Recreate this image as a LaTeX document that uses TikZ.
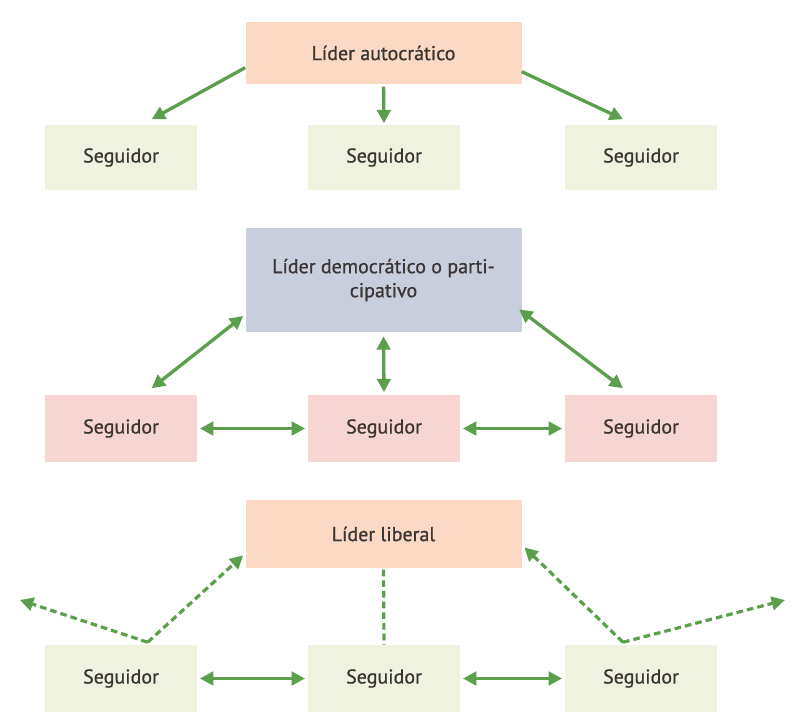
\documentclass[tikz,border=0pt]{standalone}
\usepackage{fontspec}
\setmainfont{PT Sans}[BoldFont={PT Sans}, BoldFeatures={FakeBold=0.9}]
\usetikzlibrary{positioning}
\usetikzlibrary{arrows.meta}

\definecolor{verde}{HTML}{5B9F4C}
\definecolor{durazno}{HTML}{FCD9C5}
\definecolor{verdeclaro}{HTML}{EEF2DE}
\definecolor{gris}{HTML}{C9CEDD}
\definecolor{rosa}{HTML}{F7D5D3}
\definecolor{texto}{HTML}{3B3633}

\tikzset{
	lider/.style={fill=durazno, text=texto, font=\fontsize{15}{18}\selectfont\bfseries, minimum width=207pt, minimum height=46pt, align=center, inner sep=0pt},
	seguidor/.style={fill=verdeclaro, text=texto, font=\fontsize{15}{18}\selectfont\bfseries, minimum width=114pt, minimum height=49pt, inner sep=0pt},
	flecha/.style={line width=2.5pt, verde, -{Triangle[length=10pt,width=10pt]}},
	doble/.style={line width=2.5pt, verde, {Triangle[length=10pt,width=10pt]}-{Triangle[length=10pt,width=10pt]}},
	rayada/.style={line width=2.4pt, verde, dash pattern=on 5pt off 3pt}
}

\begin{document}
\begin{tikzpicture}[x=0.75pt,y=-0.75pt]
	\useasboundingbox (0,0) rectangle (793,715);
	
	% autocratico
	\node [lider] at (383.5,53) (L1) {Líder autocrático};
	\node [seguidor] at (121,157.5) (S11) {Seguidor};
	\node [seguidor] at (384,157.5) (S12) {Seguidor};
	\node [seguidor] at (641,157.5) (S13) {Seguidor};
	
	\draw [flecha] ([yshift=-11pt]L1.west) -- ([xshift=23pt,yshift=4pt]S11.north);
	\draw [flecha, shorten <=2pt, shorten >=1pt] (L1.south) -- (S12.north);
	\draw [flecha] ([yshift=-14pt]L1.east) -- ([xshift=-13.5pt,yshift=4pt]S13.north);
	
	% democratico
	\node [lider, fill=gris, minimum height=78pt] at (383.5,280) (L2) {Líder democrático o parti-\\cipativo};
	\node [seguidor, fill=rosa, minimum height=50pt] at (121,428.5) (S21) {Seguidor};
	\node [seguidor, fill=rosa, minimum height=50pt] at (384,428.5) (S22) {Seguidor};
	\node [seguidor, fill=rosa, minimum height=50pt] at (641,428.5) (S23) {Seguidor};
	
	\draw [doble] ([xshift=23pt,yshift=5pt]S21.north) -- ([xshift=-1.5pt,yshift=-27pt]L2.west);
	\draw [doble, shorten <=3pt, shorten >=2pt] (L2.south) -- (S22.north);
	\draw [doble] ([xshift=-2pt,yshift=-22pt]L2.east) -- ([xshift=-13.5pt,yshift=5pt]S23.north);
	\draw [doble, shorten <=2pt, shorten >=2pt] (S21.east) -- (S22.west);
	\draw [doble, shorten <=2pt, shorten >=2pt] (S22.east) -- (S23.west);
	
	% liberal
	\node [lider, minimum height=51pt] at (383.5,534) (L3) {Líder liberal};
	\node [seguidor, minimum height=50pt] at (121,678.5) (S31) {Seguidor};
	\node [seguidor, minimum height=50pt] at (384,678.5) (S32) {Seguidor};
	\node [seguidor, minimum height=50pt] at (641,678.5) (S33) {Seguidor};
	
	\coordinate (afueraI) at (20,600);
	\coordinate (afueraD) at (785,600);
	
	\draw [rayada, -{Triangle[length=10pt,width=10pt]}] ([xshift=20pt,yshift=2pt]S31.north) -- ([xshift=-1.5pt,yshift=-16pt]L3.west);
	\draw [rayada, -{Triangle[length=10pt,width=10pt]}] ([xshift=20pt,yshift=2pt]S31.north) -- (afueraI);
	\draw [rayada, shorten <=1pt] (L3.south) -- (S32.north);
	\draw [rayada, -{Triangle[length=10pt,width=10pt]}] ([xshift=-13.5pt,yshift=2pt]S33.north) -- ([xshift=2pt,yshift=-10pt]L3.east);
	\draw [rayada, -{Triangle[length=10pt,width=10pt]}] ([xshift=-13.5pt,yshift=2pt]S33.north) -- (afueraD);
	\draw [doble, shorten <=2pt, shorten >=2pt] (S31.east) -- (S32.west);
	\draw [doble, shorten <=2pt, shorten >=2pt] (S32.east) -- (S33.west);
	
\end{tikzpicture}
\end{document}
